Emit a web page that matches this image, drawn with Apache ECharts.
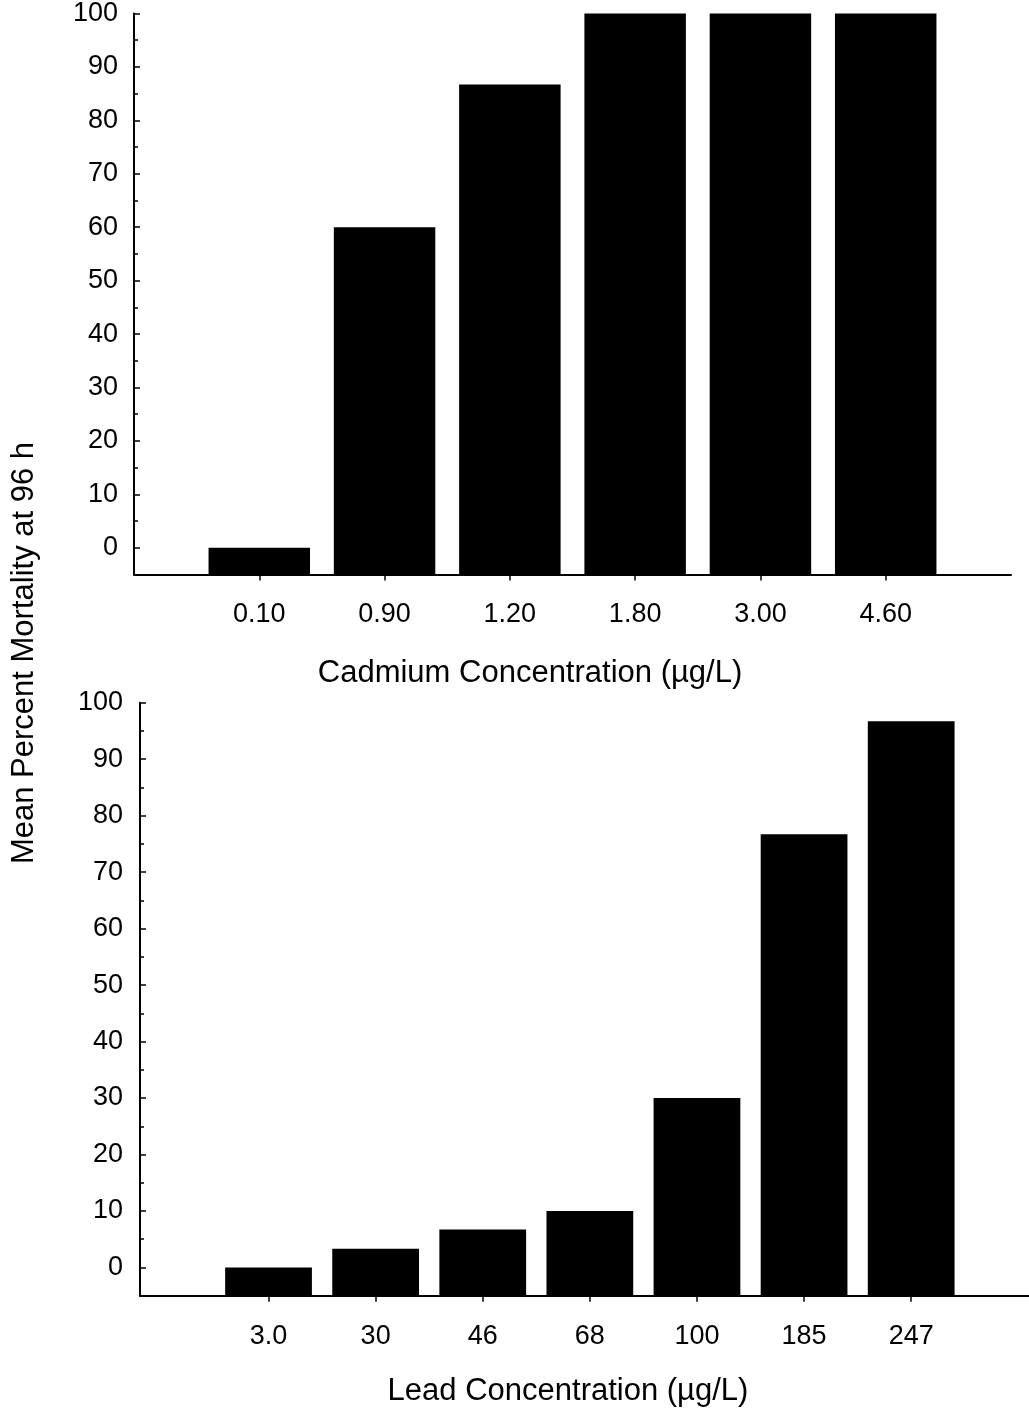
<!DOCTYPE html>
<html>
<head>
<meta charset="utf-8">
<script src="https://cdn.jsdelivr.net/npm/echarts@6/dist/echarts.min.js"></script>
<style>
  html, body { margin: 0; padding: 0; background: #fff; }
  #chart { width: 1029px; height: 1410px; }
</style>
</head>
<body>
<div id="chart"></div>
<script>
// ---- Data ----
const cadmiumCategories = ['0.10', '0.90', '1.20', '1.80', '3.00', '4.60'];
const cadmiumMortality = [0, 60, 86.7, 100, 100, 100];

const leadCategories = ['3.0', '30', '46', '68', '100', '185', '247'];
const leadMortality = [0, 3.3, 6.7, 10, 30, 76.7, 96.7];

const yMajorTicks = [0, 10, 20, 30, 40, 50, 60, 70, 80, 90, 100];
const yMinorTicks = [5, 15, 25, 35, 45, 55, 65, 75, 85, 95];

const xTitleTop = 'Cadmium Concentration (µg/L)';
const xTitleBottom = 'Lead Concentration (µg/L)';
const yTitle = 'Mean Percent Mortality at 96 h';

// ---- Chart ----
const FONT = '"Liberation Sans", Arial, Helvetica, sans-serif';
const Y_MIN = -5, Y_MAX = 100;
const BAR_FRAC = 0.81;

function barItem(params, api) {
  const x = api.value(0), v = api.value(1);
  const top = api.coord([x, v]);
  const base = api.coord([x, Y_MIN]);
  const w = api.size([BAR_FRAC, 0])[0];
  return {
    type: 'rect',
    shape: { x: top[0] - w / 2, y: top[1], width: w, height: base[1] - top[1] },
    style: { fill: '#000' }
  };
}

function xAxisFor(grid, cats, min, max) {
  const idx = cats.map((_, i) => i);
  return {
    type: 'value', gridIndex: grid, min: min, max: max,
    axisLine: { show: true, onZero: false, lineStyle: { color: '#000', width: 2 } },
    axisTick: { show: true, customValues: idx, length: 6, lineStyle: { color: '#000', width: 1.5 } },
    axisLabel: { show: true, customValues: idx, formatter: v => cats[Math.round(v)] ?? '',
                 fontSize: 27, fontFamily: FONT, color: '#000', margin: 27 },
    splitLine: { show: false }
  };
}

function yAxesFor(grid, margin) {
  return [
    {
      type: 'value', gridIndex: grid, min: Y_MIN, max: Y_MAX, position: 'left',
      axisLine: { show: true, onZero: false, lineStyle: { color: '#000', width: 2 } },
      axisTick: { show: true, inside: true, customValues: yMajorTicks, length: 6, lineStyle: { color: '#000', width: 1.5 } },
      axisLabel: { show: true, customValues: yMajorTicks, fontSize: 27, fontFamily: FONT, color: '#000', margin: margin },
      splitLine: { show: false }
    },
    {
      type: 'value', gridIndex: grid, min: Y_MIN, max: Y_MAX, position: 'left',
      axisLine: { show: false, onZero: false },
      axisTick: { show: true, inside: true, customValues: yMinorTicks, length: 4, lineStyle: { color: '#000', width: 1.5 } },
      axisLabel: { show: false },
      splitLine: { show: false }
    }
  ];
}

const chart = echarts.init(document.getElementById('chart'), null, { renderer: 'canvas' });
chart.setOption({
  animation: false,
  backgroundColor: '#fff',
  grid: [
    { left: 134, top: 11, width: 877, height: 563.5 },
    { left: 140, top: 702.7, width: 889, height: 593 }
  ],
  xAxis: [
    xAxisFor(0, cadmiumCategories, -1, 6),
    xAxisFor(1, leadCategories, -1.2, 7.1)
  ],
  yAxis: [].concat(yAxesFor(0, 16), yAxesFor(1, 17)),
  series: [
    { type: 'custom', xAxisIndex: 0, yAxisIndex: 0, renderItem: barItem,
      data: cadmiumMortality.map((v, i) => [i, v]) },
    { type: 'custom', xAxisIndex: 1, yAxisIndex: 2, renderItem: barItem,
      data: leadMortality.map((v, i) => [i, v]) }
  ],
  graphic: [
    { type: 'text', x: 530, y: 673,
      style: { text: xTitleTop, fontSize: 31, fontFamily: FONT, fill: '#000', align: 'center', verticalAlign: 'middle' } },
    { type: 'text', x: 568, y: 1391,
      style: { text: xTitleBottom, fontSize: 31, fontFamily: FONT, fill: '#000', align: 'center', verticalAlign: 'middle' } },
    { type: 'text', x: 24, y: 653, rotation: Math.PI / 2,
      style: { text: yTitle, fontSize: 31, fontFamily: FONT, fill: '#000', align: 'center', verticalAlign: 'middle' } }
  ]
});
</script>
</body>
</html>
